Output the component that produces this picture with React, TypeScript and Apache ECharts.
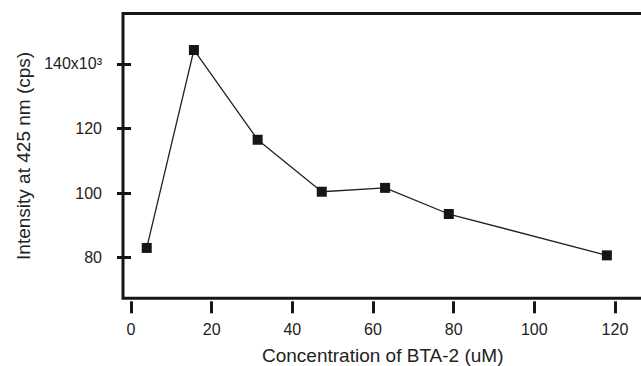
import React, { useEffect, useRef } from "react";
import * as echarts from "echarts";

const concentrations = [3.9, 15.6, 31.4, 47.3, 63.0, 78.8, 118.0];
const intensity = [83.0, 144.3, 116.5, 100.4, 101.6, 93.5, 80.7];
const xTicks = [0, 20, 40, 60, 80, 100, 120];
const yTicks = [80, 100, 120, 140];
const xTitle = "Concentration of BTA-2 (uM)";
const yTitle = "Intensity at 425 nm (cps)";

const FONT = '"Liberation Sans", Arial, Helvetica, sans-serif';
const INK = "#161616";

// plot frame geometry (pixels)
const X0PX = 131;
const XK = 4.033;
const FRAME_L = 123;
const FRAME_T = 13.5;
const FRAME_H = 284.8;
const FRAME_R = 642.5;

export default function App() {
  const ref = useRef<HTMLDivElement>(null);
  useEffect(() => {
    if (!ref.current) return;
    const chart = echarts.init(ref.current, null, { renderer: "svg" });
    chart.setOption({
      animation: false,
      backgroundColor: "#ffffff",
      grid: {
        show: true,
        left: FRAME_L,
        top: FRAME_T,
        width: FRAME_R - FRAME_L,
        height: FRAME_H,
        borderColor: INK,
        borderWidth: 3,
        backgroundColor: "transparent",
        containLabel: false,
        outerBoundsMode: "none",
      },
      xAxis: {
        type: "value",
        min: (FRAME_L - X0PX) / XK,
        max: (FRAME_R - X0PX) / XK,
        position: "bottom",
        offset: 3,
        axisLine: { show: false },
        splitLine: { show: false },
        axisTick: {
          show: true,
          length: 12,
          customValues: xTicks,
          lineStyle: { color: INK, width: 3 },
        },
        axisLabel: {
          show: true,
          customValues: xTicks,
          margin: 20,
          fontSize: 16,
          fontFamily: FONT,
          color: "#222",
        },
        name: xTitle,
        nameLocation: "middle",
        nameGap: 45,
        nameTextStyle: { fontSize: 19, fontFamily: FONT, color: "#222" },
      },
      yAxis: {
        type: "value",
        min: 67.4,
        max: 155.6,
        position: "left",
        axisLine: { show: false },
        splitLine: { show: false },
        axisTick: {
          show: true,
          length: 14,
          customValues: yTicks,
          lineStyle: { color: INK, width: 3 },
        },
        axisLabel: {
          show: true,
          customValues: yTicks,
          margin: 21,
          fontSize: 16,
          fontFamily: FONT,
          color: "#222",
          formatter: (v: number) => (v === 140 ? "140x10³" : String(v)),
        },
        name: yTitle,
        nameLocation: "middle",
        nameRotate: 90,
        nameGap: 85,
        nameTextStyle: { fontSize: 19, fontFamily: FONT, color: "#222" },
      },
      series: [
        {
          type: "line",
          data: concentrations.map((x, i) => [x, intensity[i]]),
          symbol: "rect",
          symbolSize: 10,
          itemStyle: { color: INK },
          lineStyle: { color: "#222", width: 1.3 },
        },
      ],
    });
    return () => chart.dispose();
  }, []);
  return (
    <div
      ref={ref}
      style={{ position: "absolute", left: 0, top: 0, width: 641, height: 366 }}
    />
  );
}
